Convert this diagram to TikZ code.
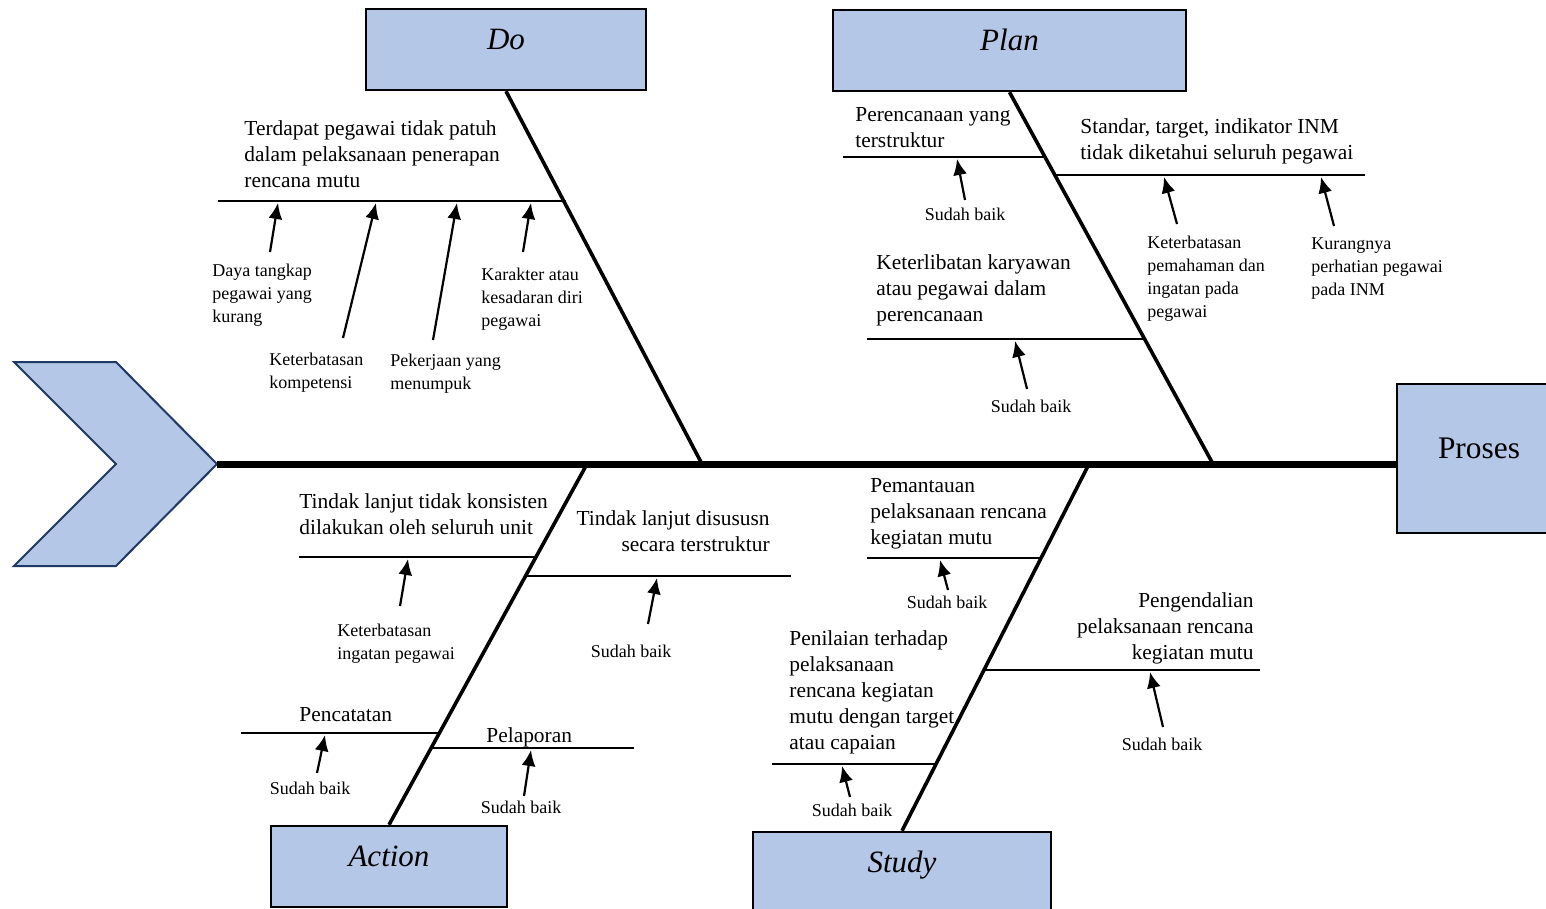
\documentclass[tikz,border=0pt]{standalone}
\usepackage{fontspec}
\setmainfont{Liberation Serif}
\usetikzlibrary{arrows.meta}
\definecolor{boxblue}{RGB}{180,199,231}
\definecolor{chevnavy}{RGB}{31,56,100}

\begin{document}
\begin{tikzpicture}[x=0.5pt,y=-0.5pt]
\tikzset{category/.style={draw=black, line width=1.2pt, fill=boxblue, minimum height=40.5pt, inner sep=0pt, text height=12pt, text depth=12pt, font=\fontsize{15.5}{18}\selectfont\itshape}}
\tikzset{bone/.style={line width=1.8pt}}
\tikzset{twig/.style={line width=1.1pt}}
\tikzset{cause/.style={line width=1.1pt, -{Latex[length=8pt,width=7pt]}}}
\tikzset{problem/.style={inner sep=0pt, anchor=north west, align=left, font=\fontsize{10.7}{13}\selectfont}}
\tikzset{reason/.style={inner sep=0pt, anchor=north west, align=left, font=\fontsize{9}{11.5}\selectfont}}

\useasboundingbox (0,0) rectangle (1546,909);

\draw[fill=boxblue, draw=chevnavy, line width=1pt, line join=miter] (14,362) -- (116,362) -- (217,464) -- (116,566) -- (14,566) -- (116,464) -- cycle;
\coordinate (tip) at (217,464);

\node[category, minimum width=140pt] (do) at (506,49.5) {Do};
\node[category, minimum width=176.5pt] (plan) at (1009.5,50.5) {Plan};
\node[category, minimum width=118pt] (action) at (389,866.5) {Action};
\node[category, minimum width=149pt] (study) at (902,872.5) {Study};
\node[category, minimum width=82pt, minimum height=74.5pt, font=\fontsize{15.7}{18}\selectfont] (proses) at (1479,458.5) {Proses};

\draw[line width=3.5pt] (tip) -- (tip -| proses.west);

\coordinate (doS) at (702,464);
\coordinate (planS) at (1213,464);
\coordinate (actS) at (587,464);
\coordinate (studyS) at (1089,464);
\draw[bone] (do.south) -- (doS);
\draw[bone] (plan.south) -- (planS);
\draw[bone] (action.north) -- (actS);
\draw[bone] (study.north) -- (studyS);

\foreach \n/\ax/\ay/\bx in {1/566/201/218, 2/1046/157/843, 3/1056/175/1365, 4/1145/339/867,
  5/536/557/299, 6/526/576/791, 7/440/733/241, 8/432/748/634,
  9/1041/558/867, 10/984/670/1260, 11/936/764/772}{
  \coordinate (b\n) at (\ax,\ay);
  \coordinate (e\n) at (\bx,\ay);
  \draw[twig] (b\n) -- (e\n);
}

\node[problem] (dop) at (244,120) {Terdapat pegawai tidak patuh\\dalam pelaksanaan penerapan\\rencana mutu};
\node[reason] (dor1) at (212,264) {Daya tangkap\\pegawai yang\\kurang};
\node[reason] (dor2) at (269,353) {Keterbatasan\\kompetensi};
\node[reason] (dor3) at (390,354) {Pekerjaan yang\\menumpuk};
\node[reason] (dor4) at (481,268) {Karakter atau\\kesadaran diri\\pegawai};

\node[problem] (plp1) at (855,107) {Perencanaan yang\\terstruktur};
\node[reason, anchor=north] (plr1) at (965,208) {Sudah baik};
\node[problem] (plp2) at (1080,118) {Standar, target, indikator INM\\tidak diketahui seluruh pegawai};
\node[reason] (plr2) at (1147,236) {Keterbatasan\\pemahaman dan\\ingatan pada\\pegawai};
\node[reason] (plr3) at (1311,237) {Kurangnya\\perhatian pegawai\\pada INM};
\node[problem] (plp3) at (876,254) {Keterlibatan karyawan\\atau pegawai dalam\\perencanaan};
\node[reason, anchor=north] (plr4) at (1031,400) {Sudah baik};

\node[problem] (acp1) at (299,493) {Tindak lanjut tidak konsisten\\dilakukan oleh seluruh unit};
\node[reason] (acr1) at (337,624) {Keterbatasan\\ingatan pegawai};
\node[problem, anchor=north east, align=right] (acp2) at (770,510) {Tindak lanjut disususn\\secara terstruktur};
\node[reason, anchor=north] (acr2) at (631,645) {Sudah baik};
\node[problem] (acp3) at (299,707) {Pencatatan};
\node[reason, anchor=north] (acr3) at (310,782) {Sudah baik};
\node[problem] (acp4) at (486,727) {Pelaporan};
\node[reason, anchor=north] (acr4) at (521,801) {Sudah baik};

\node[problem] (stp1) at (870,478) {Pemantauan\\pelaksanaan rencana\\kegiatan mutu};
\node[reason, anchor=north] (str1) at (947,596) {Sudah baik};
\node[problem, anchor=north east, align=right] (stp2) at (1254,592) {Pengendalian\\pelaksanaan rencana\\kegiatan mutu};
\node[reason, anchor=north] (str2) at (1162,738) {Sudah baik};
\node[problem] (stp3) at (789,630) {Penilaian terhadap\\pelaksanaan\\rencana kegiatan\\mutu dengan target\\atau capaian};
\node[reason, anchor=north] (str3) at (852,804) {Sudah baik};

\foreach \n/\tx/\ty/\hx/\hy in {1/270/252/278/203, 2/343/338/376/203, 3/433/340/457/203, 4/523/252/531/203,
  5/965/200/957/159, 6/1177/224/1164/177, 7/1334/226/1321/177, 8/1027/389/1015/341,
  9/400/606/408/559, 10/648/624/657/578, 11/317/773/325/735, 12/524/796/531/750,
  13/948/590/940/560, 14/1163/727/1150/672, 15/850/797/842/766}{
  \coordinate (t\n) at (\tx,\ty);
  \coordinate (h\n) at (\hx,\hy);
  \draw[cause] (t\n) -- (h\n);
}
\end{tikzpicture}
\end{document}
